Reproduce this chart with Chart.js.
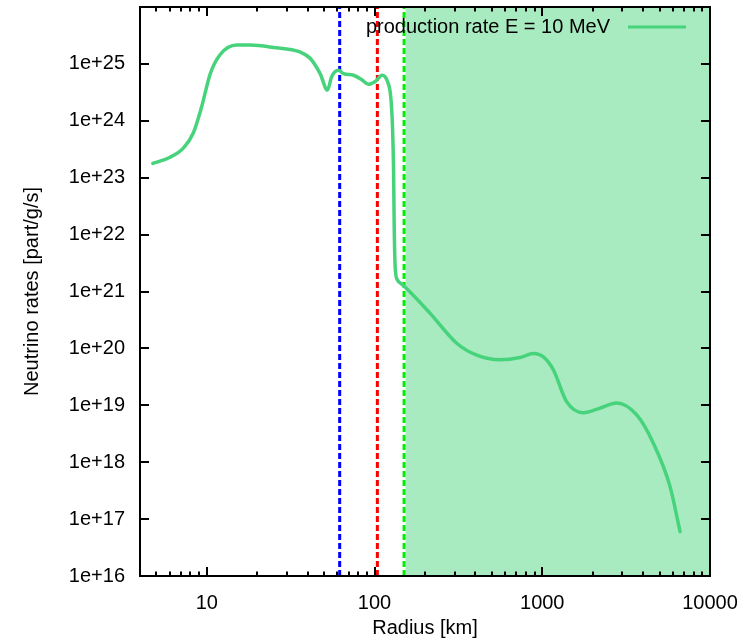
<!DOCTYPE html>
<html>
<head>
<meta charset="utf-8">
<title>Neutrino production rate</title>
<script src="https://cdn.jsdelivr.net/npm/chart.js@4.4.1/dist/chart.umd.min.js"></script>
<style>
  html, body { margin: 0; padding: 0; background: #ffffff; }
  #wrap { width: 749px; height: 640px; }
</style>
</head>
<body>
<div id="wrap"><canvas id="c" width="749" height="640"></canvas></div>
<script>
// Production rate profile, E = 10 MeV
const radiusKm = [4.77, 6.04, 7.25, 8.3, 9.33, 10.5, 12.0, 15.1, 18.1, 24.9, 36, 41.3, 47.4, 52.4, 55.6,
  61, 65.3, 75, 84, 92, 101, 111, 119.5, 125, 128, 130, 131, 133, 137, 145, 152,
  214, 309, 407, 561, 738, 886, 1016, 1166, 1400, 1760, 2210, 2780, 3660, 4600, 5780, 6630];
const productionRate = [1.78e23, 2.29e23, 3.31e23, 6.03e23, 1.78e24, 6.76e24, 1.45e25, 2.14e25, 2.14e25, 1.95e25, 1.62e25, 1.26e25, 6.76e24, 3.47e24, 6.03e24,
  7.76e24, 6.76e24, 6.31e24, 5.25e24, 4.37e24, 4.9e24, 6.31e24, 4.9e24, 2.63e24, 7.94e23, 1.2e23, 1.5e22, 2.5e21, 1.6e21, 1.35e21, 1.2e21,
  4.17e20, 1.23e20, 7.59e19, 6.31e19, 6.92e19, 8.13e19, 7.08e19, 4.17e19, 1.15e19, 7.41e18, 8.91e18, 1.1e19, 6.76e18, 2.14e18, 3.72e17, 6.03e16];

// Marker radii (km) and shaded outer zone
const markerRadii = [62, 104, 150];
const markerColors = ['#0000ff', '#ff0000', '#00ee00'];
const shadeFrom = 150;

// Axis ranges and tick values
const xRange = [4, 10000];
const yRange = [1e16, 1e26];
const xTickValues = [10, 100, 1000, 10000];
const xTickLabels = ['10', '100', '1000', '10000'];
const yTickValues = [1e16, 1e17, 1e18, 1e19, 1e20, 1e21, 1e22, 1e23, 1e24, 1e25, 1e26];
const yTickLabels = ['1e+16', '1e+17', '1e+18', '1e+19', '1e+20', '1e+21', '1e+22', '1e+23', '1e+24', '1e+25', ''];
const xMinorTicks = [];
for (let d = 1; d <= 1000; d *= 10) {
  for (let m = 2; m <= 9; m++) {
    if (m * d > xRange[0]) xMinorTicks.push(m * d);
  }
}

const seriesLabel = 'production rate E = 10 MeV';
const curveColor = '#47d37c';
const shadeColor = '#a8ebc0';
const FONT = 'Liberation Sans, Arial, Helvetica, sans-serif';
const FONT_SIZE = 20;

const curve = radiusKm.map((r, i) => ({ x: r, y: productionRate[i] }));
const datasets = [];

datasets.push({
  label: seriesLabel,
  data: curve,
  borderColor: curveColor,
  borderWidth: 3.5,
  pointRadius: 0,
  cubicInterpolationMode: 'monotone',
  borderJoinStyle: 'round',
  borderCapStyle: 'round',
  fill: false,
  order: 0
});

markerRadii.forEach((r, i) => {
  datasets.push({
    label: 'marker' + i,
    data: [{ x: r, y: yRange[0] }, { x: r, y: yRange[1] }],
    borderColor: markerColors[i],
    borderWidth: 3,
    borderDash: [6, 3],
    pointRadius: 0,
    fill: false,
    order: 1
  });
  datasets.push({
    label: 'markerBase' + i,
    data: [{ x: r, y: yRange[0] }, { x: r, y: yRange[1] }],
    borderColor: '#ffffff',
    borderWidth: 3,
    pointRadius: 0,
    fill: false,
    order: 2
  });
});

datasets.push({
  label: 'zone',
  data: [{ x: shadeFrom, y: yRange[1] }, { x: xRange[1], y: yRange[1] }],
  borderWidth: 0,
  borderColor: 'rgba(0,0,0,0)',
  backgroundColor: shadeColor,
  pointRadius: 0,
  fill: 'start',
  order: 3
});

// Frame, inward tick marks and key
const framePlugin = {
  id: 'frame',
  afterDatasetsDraw(chart) {
    const { ctx, chartArea: a, scales } = chart;
    const xs = scales.x, ys = scales.y;
    ctx.save();
    ctx.strokeStyle = '#000000';
    ctx.lineWidth = 2;
    ctx.beginPath();
    const major = 9, minor = 4.5;
    xTickValues.forEach(v => {
      const px = Math.round(xs.getPixelForValue(v));
      ctx.moveTo(px, a.bottom); ctx.lineTo(px, a.bottom - major);
      ctx.moveTo(px, a.top); ctx.lineTo(px, a.top + major);
    });
    xMinorTicks.forEach(v => {
      const px = Math.round(xs.getPixelForValue(v));
      ctx.moveTo(px, a.bottom); ctx.lineTo(px, a.bottom - minor);
      ctx.moveTo(px, a.top); ctx.lineTo(px, a.top + minor);
    });
    yTickValues.forEach(v => {
      const py = Math.round(ys.getPixelForValue(v));
      ctx.moveTo(a.left, py); ctx.lineTo(a.left + major, py);
      ctx.moveTo(a.right, py); ctx.lineTo(a.right - major, py);
    });
    ctx.stroke();
    ctx.lineWidth = 2;
    ctx.strokeRect(a.left, a.top, a.right - a.left, a.bottom - a.top);

    // key in the top-right corner
    const ky = a.top + 20;
    const lineEnd = a.right - 24, lineStart = a.right - 82;
    ctx.font = FONT_SIZE + 'px ' + FONT;
    ctx.fillStyle = '#000000';
    ctx.textAlign = 'right';
    ctx.textBaseline = 'middle';
    ctx.fillText(seriesLabel, a.right - 100, ky);
    ctx.strokeStyle = curveColor;
    ctx.lineWidth = 3;
    ctx.beginPath();
    ctx.moveTo(lineStart, ky); ctx.lineTo(lineEnd, ky);
    ctx.stroke();
    ctx.restore();
  }
};

new Chart(document.getElementById('c'), {
  type: 'line',
  data: { datasets },
  plugins: [framePlugin],
  options: {
    responsive: false,
    devicePixelRatio: 1,
    animation: false,
    events: [],
    layout: { padding: { top: 7, right: 39, bottom: 0, left: 0 } },
    plugins: { legend: { display: false }, tooltip: { enabled: false } },
    scales: {
      x: {
        type: 'logarithmic',
        position: 'bottom',
        min: xRange[0],
        max: xRange[1],
        grid: { display: false, drawTicks: false },
        border: { display: false },
        afterBuildTicks: s => { s.ticks = xTickValues.map(v => ({ value: v, major: true })); },
        afterFit: s => { s.height = 64; s.paddingLeft = 0; s.paddingRight = 0; },
        ticks: {
          autoSkip: false,
          maxRotation: 0,
          padding: 15,
          color: '#000000',
          font: { family: FONT, size: FONT_SIZE },
          callback: v => xTickLabels[xTickValues.indexOf(v)] ?? ''
        },
        title: {
          display: true,
          text: 'Radius [km]',
          color: '#000000',
          font: { family: FONT, size: FONT_SIZE, lineHeight: 1.2 },
          padding: { top: 0, bottom: 0 }
        }
      },
      y: {
        type: 'logarithmic',
        position: 'left',
        min: yRange[0],
        max: yRange[1],
        grid: { display: false, drawTicks: false },
        border: { display: false },
        afterBuildTicks: s => { s.ticks = yTickValues.map(v => ({ value: v, major: true })); },
        afterFit: s => { s.width = 140; s.paddingTop = 0; s.paddingBottom = 0; },
        ticks: {
          autoSkip: false,
          padding: 15,
          color: '#000000',
          font: { family: FONT, size: FONT_SIZE },
          callback: v => yTickLabels[yTickValues.findIndex(t => Math.abs(t - v) / t < 1e-6)] ?? ''
        },
        title: {
          display: true,
          text: 'Neutrino rates [part/g/s]',
          color: '#000000',
          font: { family: FONT, size: FONT_SIZE, lineHeight: 1.2 },
          padding: { top: 20, bottom: 0 }
        }
      }
    }
  }
});
</script>
</body>
</html>
